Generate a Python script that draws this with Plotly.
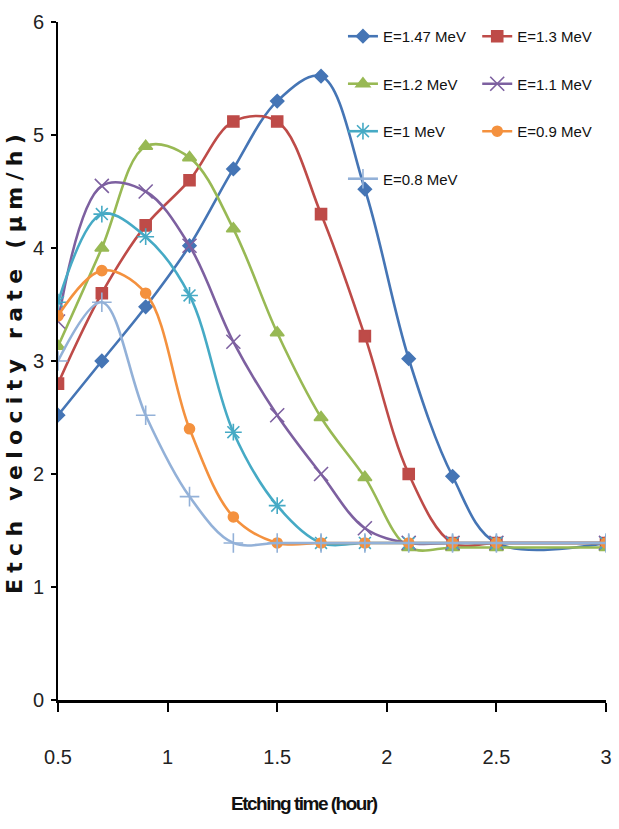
import plotly.graph_objects as go

time_h = [0.5, 0.7, 0.9, 1.1, 1.3, 1.5, 1.7, 1.9, 2.1, 2.3, 2.5, 3.0]

e147 = [2.52, 3.0, 3.48, 4.02, 4.7, 5.3, 5.52, 4.52, 3.02, 1.98, 1.39, 1.39]
e130 = [2.8, 3.6, 4.2, 4.6, 5.12, 5.12, 4.3, 3.22, 2.0, 1.39, 1.39, 1.39]
e120 = [3.13, 4.0, 4.9, 4.8, 4.17, 3.25, 2.5, 1.97, 1.35, 1.35, 1.35, 1.35]
e110 = [3.35, 4.55, 4.5, 4.02, 3.17, 2.52, 2.0, 1.52, 1.39, 1.39, 1.39, 1.39]
e100 = [3.52, 4.3, 4.1, 3.58, 2.37, 1.72, 1.39, 1.39, 1.39, 1.39, 1.39, 1.39]
e090 = [3.4, 3.8, 3.6, 2.4, 1.62, 1.39, 1.39, 1.39, 1.39, 1.39, 1.39, 1.39]
e080 = [3.0, 3.52, 2.52, 1.8, 1.39, 1.39, 1.39, 1.39, 1.39, 1.39, 1.39, 1.39]

series_names = ["E=1.47 MeV", "E=1.3 MeV", "E=1.2 MeV", "E=1.1 MeV",
                "E=1 MeV", "E=0.9 MeV", "E=0.8 MeV"]
series_vals = [e147, e130, e120, e110, e100, e090, e080]
colors = ["#4575B5", "#BE4B48", "#98B954", "#7D60A0", "#46AAC5", "#F4913E", "#93B1D8"]
symbols = ["diamond", "square", "triangle-up", "x-thin-open", "asterisk-open",
           "circle", "cross-thin-open"]
msizes = [10, 11, 12, 14, 14, 10, 14]
legends = ["legend", "legend2", "legend", "legend2", "legend", "legend2", "legend"]

x_title = "Etching time (hour)"
y_title = "Etch velocity rate (μm/h)"

fig = go.Figure()
for i, (nm, vals) in enumerate(zip(series_names, series_vals)):
    fig.add_trace(go.Scatter(
        x=time_h, y=vals, name=nm, mode="lines+markers",
        line=dict(color=colors[i], width=2.6, shape="spline", smoothing=1.0),
        marker=dict(symbol=symbols[i], size=msizes[i], color=colors[i],
                    line=dict(color=colors[i], width=1.6)),
        legend=legends[i], legendgroup=nm,
    ))

narrow = "Liberation Sans Narrow, Arial Narrow, Liberation Sans, sans-serif"
legend_style = dict(
    bgcolor="rgba(0,0,0,0)", font=dict(family=narrow, size=15, color="#111111"),
    tracegroupgap=25, itemwidth=30, yanchor="top",
)

fig.add_annotation(
    text=f'<span style="letter-spacing:-1.5px"><b>{x_title}</b></span>',
    xref="paper", yref="paper", x=0.449, y=-0.152, xanchor="center", yanchor="middle",
    showarrow=False, font=dict(family=narrow, size=19, color="#111111"),
)

fig.update_layout(
    width=619, height=829,
    margin=dict(l=58, r=7, t=22, b=129),
    paper_bgcolor="white", plot_bgcolor="white",
    showlegend=True,
    legend=dict(x=0.52, y=1.003, xanchor="left", **legend_style),
    legend2=dict(x=0.765, y=1.003, xanchor="left", **legend_style),
    xaxis=dict(
        range=[0.5, 3.0], tickvals=[0.5, 1, 1.5, 2, 2.5, 3],
        ticktext=["0.5", "1", "1.5", "2", "2.5", "3"],
        showgrid=False, zeroline=False,
        showline=True, linecolor="black", linewidth=3,
        ticks="outside", ticklen=9, tickwidth=2, tickcolor="black",
        ticklabelstandoff=28,
        tickfont=dict(family=narrow, size=20, color="#222222"),
    ),
    yaxis=dict(
        range=[0, 6], tickvals=[0, 1, 2, 3, 4, 5, 6],
        showgrid=False, zeroline=False,
        showline=True, linecolor="black", linewidth=2,
        ticks="outside", ticklen=5, tickwidth=2, tickcolor="black",
        ticklabelstandoff=3,
        tickfont=dict(family=narrow, size=20, color="#222222"),
        title=dict(text=f'<span style="letter-spacing:6.3px"><b>{y_title}</b></span>',
                   standoff=4,
                   font=dict(family="DejaVu Sans, sans-serif", size=22, color="#111111")),
    ),
)

fig.write_html("out.html")
